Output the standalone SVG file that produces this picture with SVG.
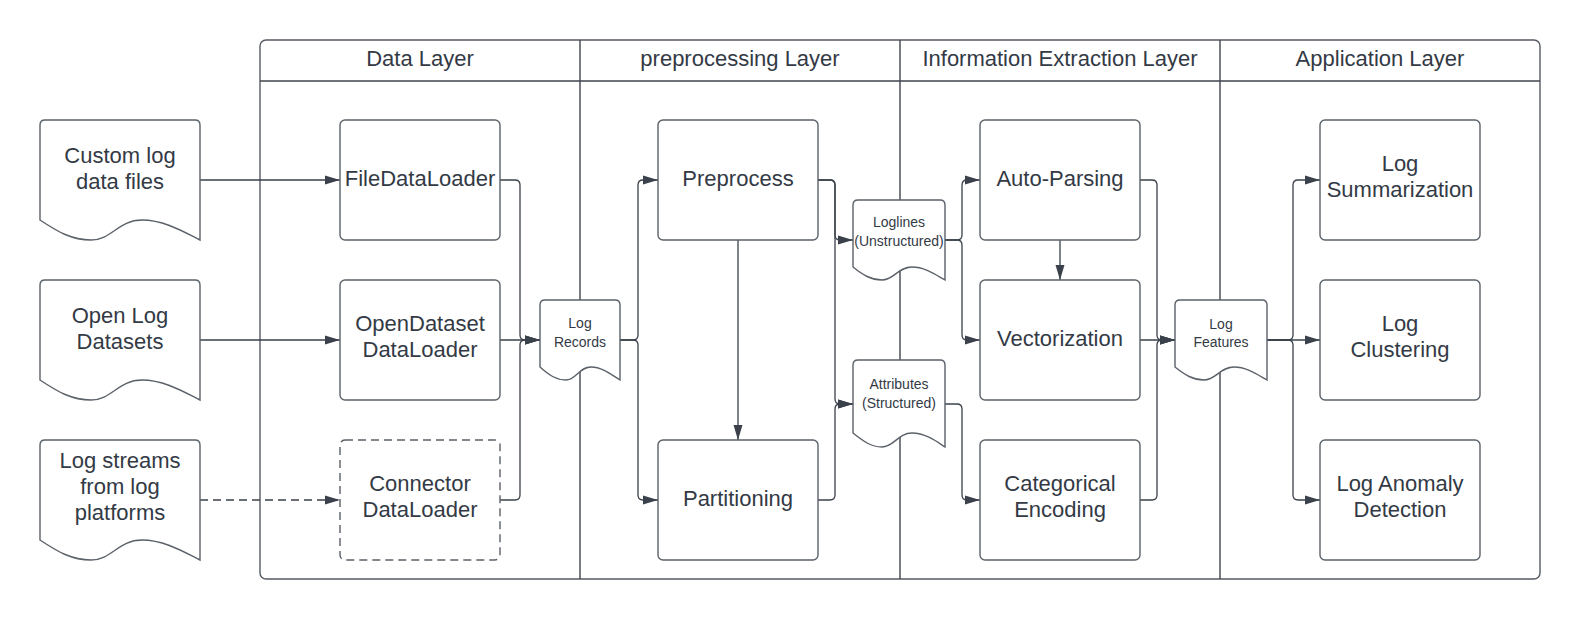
<svg xmlns="http://www.w3.org/2000/svg" width="1580" height="620" viewBox="0 0 1580 620">
<style>
.bg{fill:#ffffff}
.lane{fill:none;stroke:#555b63;stroke-width:1.4}
.div{fill:none;stroke:#3f454d;stroke-width:1.4}
.box{fill:#ffffff;stroke:#5b6169;stroke-width:1.4}
.dash{stroke-dasharray:8,5}
.doc{fill:#ffffff;stroke:#5b6169;stroke-width:1.4}
.t{font-family:"Liberation Sans",Arial,sans-serif;font-size:22px;fill:#333a45;text-anchor:middle}
.s{font-family:"Liberation Sans",Arial,sans-serif;font-size:14px;fill:#333a45;text-anchor:middle}
.c{fill:none;stroke:#3a414a;stroke-width:1.3;marker-end:url(#arr)}
</style>
<defs>
<marker id="arr" markerUnits="userSpaceOnUse" markerWidth="15" markerHeight="10" refX="15" refY="5" orient="auto">
<path d="M0,0.5 L15,5 L0,9.5 Z" fill="#3a414a"/>
</marker>
</defs>
<rect class="bg" x="0" y="0" width="1580" height="620"/>

<g id="lanes">
<rect class="lane" x="260" y="40" width="1280" height="539" rx="6"/>
<line class="div" x1="260" y1="81" x2="1540" y2="81"/>
<line class="div" x1="580" y1="40" x2="580" y2="579"/>
<line class="div" x1="900" y1="40" x2="900" y2="579"/>
<line class="div" x1="1220" y1="40" x2="1220" y2="579"/>
<text class="t" x="420" y="66">Data Layer</text>
<text class="t" x="740" y="66">preprocessing Layer</text>
<text class="t" x="1060" y="66">Information Extraction Layer</text>
<text class="t" x="1380" y="66">Application Layer</text>
</g>

<g id="connectors">
<path class="c" d="M200,180 H340"/>
<path class="c" d="M200,340 H340"/>
<path class="c dash" d="M200,500 H340"/>
<path class="c" d="M500,180 H515 Q520,180 520,185 V335 Q520,340 525,340 H540"/>
<path class="c" d="M500,340 H540"/>
<path class="c" d="M500,500 H515 Q520,500 520,495 V345 Q520,340 525,340 H540"/>
<path class="c" d="M620,340 H633 Q638,340 638,335 V185 Q638,180 643,180 H658"/>
<path class="c" d="M620,340 H633 Q638,340 638,345 V495 Q638,500 643,500 H658"/>
<path class="c" d="M738,240 V440"/>
<path class="c" d="M818,180 H830 Q835,180 835,185 V235 Q835,240 840,240 H853"/>
<path class="c" d="M818,180 H830 Q835,180 835,185 V399 Q835,404 840,404 H853"/>
<path class="c" d="M818,500 H830 Q835,500 835,495 V409 Q835,404 840,404 H853"/>
<path class="c" d="M945,240 H957 Q962,240 962,235 V185 Q962,180 967,180 H980"/>
<path class="c" d="M945,240 H957 Q962,240 962,245 V335 Q962,340 967,340 H980"/>
<path class="c" d="M945,404 H957 Q962,404 962,409 V495 Q962,500 967,500 H980"/>
<path class="c" d="M1060,240 V280"/>
<path class="c" d="M1140,180 H1152 Q1157,180 1157,185 V335 Q1157,340 1162,340 H1175"/>
<path class="c" d="M1140,340 H1175"/>
<path class="c" d="M1140,500 H1152 Q1157,500 1157,495 V345 Q1157,340 1162,340 H1175"/>
<path class="c" d="M1267,340 H1288 Q1293,340 1293,335 V185 Q1293,180 1298,180 H1320"/>
<path class="c" d="M1267,340 H1320"/>
<path class="c" d="M1267,340 H1288 Q1293,340 1293,345 V495 Q1293,500 1298,500 H1320"/>
</g>

<g id="doc-custom">
<path class="doc" d="M40,220 V125 Q40,120 45,120 H195 Q200,120 200,125 V240 C184,232 164,220 142,220 C118,220 112,240 91,240 C72,240 58,232 40,220 Z"/>
<text class="t" x="120" y="163">Custom log</text>
<text class="t" x="120" y="189">data files</text>
</g>
<g id="doc-open">
<path class="doc" d="M40,380 V285 Q40,280 45,280 H195 Q200,280 200,285 V400 C184,392 164,380 142,380 C118,380 112,400 91,400 C72,400 58,392 40,380 Z"/>
<text class="t" x="120" y="323">Open Log</text>
<text class="t" x="120" y="349">Datasets</text>
</g>
<g id="doc-streams">
<path class="doc" d="M40,540 V445 Q40,440 45,440 H195 Q200,440 200,445 V560 C184,552 164,540 142,540 C118,540 112,560 91,560 C72,560 58,552 40,540 Z"/>
<text class="t" x="120" y="468">Log streams</text>
<text class="t" x="120" y="494">from log</text>
<text class="t" x="120" y="520">platforms</text>
</g>

<g id="file-loader">
<rect class="box" x="340" y="120" width="160" height="120" rx="5"/>
<text class="t" x="420" y="186">FileDataLoader</text>
</g>
<g id="open-loader">
<rect class="box" x="340" y="280" width="160" height="120" rx="5"/>
<text class="t" x="420" y="331">OpenDataset</text>
<text class="t" x="420" y="357">DataLoader</text>
</g>
<g id="connector-loader">
<rect class="box dash" x="340" y="440" width="160" height="120" rx="5"/>
<text class="t" x="420" y="491">Connector</text>
<text class="t" x="420" y="517">DataLoader</text>
</g>

<g id="log-records">
<path class="doc" d="M540,367 V305 Q540,300 545,300 H615 Q620,300 620,305 V380 C612,375 602,367 591,367 C579,367 576,380 566,380 C556,380 549,375 540,367 Z"/>
<text class="s" x="580" y="328">Log</text>
<text class="s" x="580" y="347">Records</text>
</g>

<g id="preprocess">
<rect class="box" x="658" y="120" width="160" height="120" rx="5"/>
<text class="t" x="738" y="186">Preprocess</text>
</g>
<g id="partitioning">
<rect class="box" x="658" y="440" width="160" height="120" rx="5"/>
<text class="t" x="738" y="506">Partitioning</text>
</g>

<g id="loglines">
<path class="doc" d="M853,267 V205 Q853,200 858,200 H940 Q945,200 945,205 V280 C936,275 925,267 912,267 C898,267 894,280 882,280 C871,280 863,275 853,267 Z"/>
<text class="s" x="899" y="227">Loglines</text>
<text class="s" x="899" y="246">(Unstructured)</text>
</g>
<g id="attributes">
<path class="doc" d="M853,433 V365 Q853,360 858,360 H940 Q945,360 945,365 V447 C936,441 925,433 912,433 C898,433 894,447 882,447 C871,447 863,441 853,433 Z"/>
<text class="s" x="899" y="389">Attributes</text>
<text class="s" x="899" y="408">(Structured)</text>
</g>

<g id="auto-parsing">
<rect class="box" x="980" y="120" width="160" height="120" rx="5"/>
<text class="t" x="1060" y="186">Auto-Parsing</text>
</g>
<g id="vectorization">
<rect class="box" x="980" y="280" width="160" height="120" rx="5"/>
<text class="t" x="1060" y="346">Vectorization</text>
</g>
<g id="categorical">
<rect class="box" x="980" y="440" width="160" height="120" rx="5"/>
<text class="t" x="1060" y="491">Categorical</text>
<text class="t" x="1060" y="517">Encoding</text>
</g>

<g id="log-features">
<path class="doc" d="M1175,367 V305 Q1175,300 1180,300 H1262 Q1267,300 1267,305 V380 C1258,375 1247,367 1234,367 C1220,367 1216,380 1204,380 C1193,380 1185,375 1175,367 Z"/>
<text class="s" x="1221" y="329">Log</text>
<text class="s" x="1221" y="347">Features</text>
</g>

<g id="summarization">
<rect class="box" x="1320" y="120" width="160" height="120" rx="5"/>
<text class="t" x="1400" y="171">Log</text>
<text class="t" x="1400" y="197">Summarization</text>
</g>
<g id="clustering">
<rect class="box" x="1320" y="280" width="160" height="120" rx="5"/>
<text class="t" x="1400" y="331">Log</text>
<text class="t" x="1400" y="357">Clustering</text>
</g>
<g id="anomaly">
<rect class="box" x="1320" y="440" width="160" height="120" rx="5"/>
<text class="t" x="1400" y="491">Log Anomaly</text>
<text class="t" x="1400" y="517">Detection</text>
</g>
</svg>
